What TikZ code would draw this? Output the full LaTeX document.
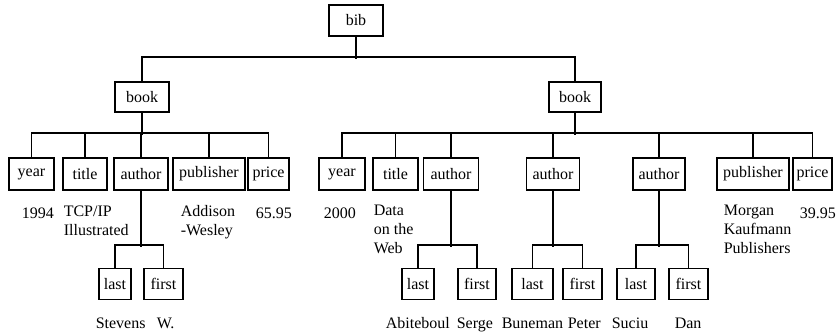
\documentclass[tikz,border=0pt]{standalone}
\usepackage{fontspec}
\setmainfont{Liberation Serif}

\begin{document}
\begin{tikzpicture}[
            x = 1pt, y = -1pt, % pixel units, y runs down
            line width = 1.6pt, % line style
            font = \fontsize{16}{19}\selectfont
        ]

        \tikzstyle{tag}=[
            draw,
            line width = 1.6pt,
            inner sep = 0pt,
            minimum height = 31pt
        ]
        \tikzstyle{val}=[
            anchor = north west,
            inner sep = 0pt,
            align = left,
            execute at begin node = \strut
        ]

        \useasboundingbox (0,0) rectangle (836,333);

	% root
        \node[tag, minimum width=54pt] (bib) at (356,20.5) {bib};

        % books
        \node[tag, minimum width=54pt, minimum height=30pt] (book1) at (142,97) {book};
        \node[tag, minimum width=52pt, minimum height=30pt] (book2) at (575,97) {book};

        \draw (bib.south) -- ++(0,22);
        \draw (book1.north) -- ++(0,-24) -| (book2.north);

        % first book
        \node[tag, minimum width=45pt, minimum height=32pt] (year1) at (31.5,174) {year};
        \node[tag, minimum width=44pt, minimum height=32pt] (title1) at (85,174) {title};
        \node[tag, minimum width=54pt, minimum height=32pt] (author1) at (141,174) {author};
        \node[tag, minimum width=72pt, minimum height=32pt] (pub1) at (209,174) {publisher};
        \node[tag, minimum width=41pt, minimum height=32pt] (price1) at (268.5,174) {price};

        \draw (book1.south) -- ++(0,22);
        \draw (year1.north) -- ++(0,-24) -| (price1.north);
        \foreach \n in {title1, author1, pub1}
            \draw (\n.north) -- ++(0,-24);

        % second book
        \node[tag, minimum width=46pt, minimum height=32pt] (year2) at (342,174) {year};
        \node[tag, minimum width=45pt, minimum height=32pt] (title2) at (395.5,174) {title};
        \node[tag, minimum width=55pt, minimum height=32pt] (authA) at (451,174) {author};
        \node[tag, minimum width=53pt, minimum height=32pt] (authB) at (553,174) {author};
        \node[tag, minimum width=52pt, minimum height=32pt] (authC) at (659,174) {author};
        \node[tag, minimum width=72pt, minimum height=32pt] (pub2) at (753,174) {publisher};
        \node[tag, minimum width=39pt, minimum height=32pt] (price2) at (812.5,174) {price};

        \draw (book2.south) -- ++(0,22);
        \draw (year2.north) -- ++(0,-24) -| (price2.north);
        \foreach \n in {title2, authA, authB, authC, pub2}
            \draw (\n.north) -- ++(0,-24);

        % names
        \node[tag, minimum width=32pt] (last1) at (115,284) {last};
        \node[tag, minimum width=39pt] (first1) at (163.5,284) {first};
        \node[tag, minimum width=32pt] (lastA) at (418,284) {last};
        \node[tag, minimum width=38pt] (firstA) at (477,284) {first};
        \node[tag, minimum width=41pt] (lastB) at (532.5,284) {last};
        \node[tag, minimum width=39pt] (firstB) at (582.5,284) {first};
        \node[tag, minimum width=38pt] (lastC) at (636,284) {last};
        \node[tag, minimum width=39pt] (firstC) at (688.5,284) {first};

        \foreach \a/\l/\f in {author1/last1/first1, authA/lastA/firstA,
                              authB/lastB/firstB, authC/lastC/firstC} {
            \draw (\a.south) -- ++(0,56);
            \draw (\l.north) -- ++(0,-22.5) -| (\f.north);
        }

        % values
        \node[val] (v1) at (21,204.7) {1994};
        \node[val] (v2) at (63,204.7) {TCP/IP\\Illustrated};
        \node[val] (v3) at (180,204.7) {Addison\\-Wesley};
        \node[val] (v4) at (255,204.7) {65.95};
        \node[val] (v5) at (323,204.7) {2000};
        \node[val] (v6) at (373,204.7) {Data\\on the\\Web};
        \node[val] (v7) at (723,204.7) {Morgan\\Kaufmann\\Publishers};
        \node[val] (v8) at (799,204.7) {39.95};

        \node[val] (n1) at (95,314.7) {Stevens};
        \node[val] (n2) at (156,314.7) {W.};
        \node[val] (n3) at (385,314.7) {Abiteboul};
        \node[val] (n4) at (456,314.7) {Serge};
        \node[val] (n5) at (501,314.7) {Buneman};
        \node[val] (n6) at (567,314.7) {Peter};
        \node[val] (n7) at (611,314.7) {Suciu};
        \node[val] (n8) at (674,314.7) {Dan};

  \end{tikzpicture}
\end{document}
